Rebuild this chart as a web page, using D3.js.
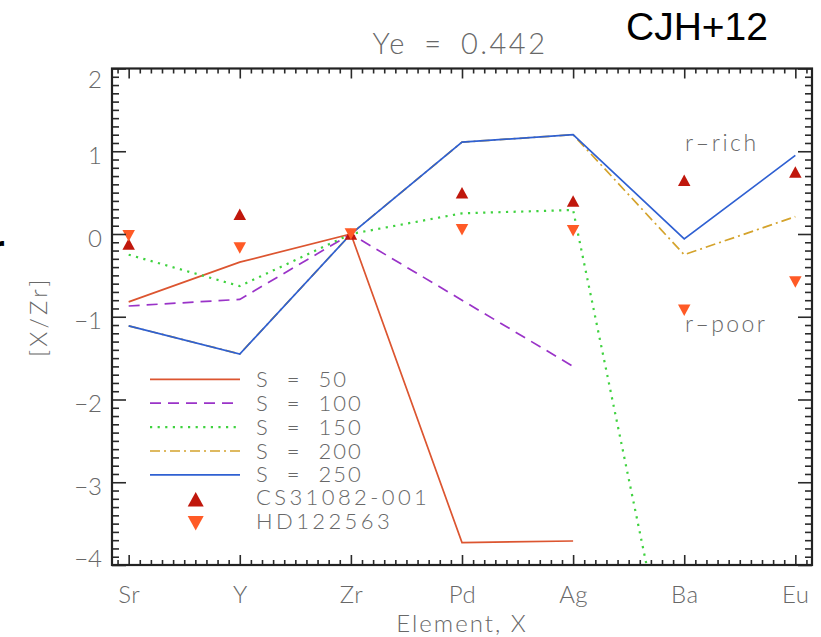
<!DOCTYPE html>
<html>
<head>
<meta charset="utf-8">
<script src="https://cdn.jsdelivr.net/npm/d3@7"></script>
<style>
  html, body { margin: 0; padding: 0; background: #fff; }
  svg { display: block; }
  .idl { font-family: Lato, "DejaVu Sans", sans-serif; font-weight: 300; fill: #686868; }
</style>
</head>
<body>
<svg id="chart" width="821" height="637"></svg>
<script>
// Elements along the x axis
const elements = ["Sr", "Y", "Zr", "Pd", "Ag", "Ba", "Eu"];

// Model abundance patterns [X/Zr] for each entropy S (Ye = 0.442)
const s50  = [-0.82, -0.34, 0.00, -3.73, -3.71];
const s100 = [-0.87, -0.79, 0.00, -0.80, -1.60];
const s150 = [-0.25, -0.63, 0.00, 0.25, 0.29, -6.20];
const s200 = [-1.11, -1.45, 0.00, 1.11, 1.20, -0.25, 0.21];
const s250 = [-1.11, -1.45, 0.00, 1.11, 1.20, -0.06, 0.95];

// Observed stars
const cs31082  = [-0.12, 0.24, 0.00, 0.50, 0.40, 0.65, 0.75];
const hd122563 = [-0.02, -0.17, 0.00, 0.05, 0.04, -0.92, -0.58];

// Axis tick values
const yTicks = [-4, -3, -2, -1, 0, 1, 2];
const seriesNames = ["S = 50", "S = 100", "S = 150", "S = 200", "S = 250"];
const starNames = ["CS31082-001", "HD122563"];

const svg = d3.select("#chart");
const P = { left: 112, right: 812, top: 68.5, bottom: 565 };

const x = d3.scaleLinear().domain([-0.15, 6.15]).range([P.left, P.right]);
const y = d3.scaleLinear().domain([-4, 2]).range([P.bottom, P.top]);

const series = [
  { name: seriesNames[0], values: s50,  color: "#dc5530", dash: null, w: 1.7 },
  { name: seriesNames[1], values: s100, color: "#9a33c8", dash: "11,7", w: 1.7 },
  { name: seriesNames[2], values: s150, color: "#3fd23f", dash: "2.2,5.4", w: 2.2 },
  { name: seriesNames[3], values: s200, color: "#d4a32c", dash: "10,4,2,4", w: 1.7 },
  { name: seriesNames[4], values: s250, color: "#2f60d2", dash: null, w: 1.7 }
];
const stars = [
  { name: starNames[0], values: cs31082,  color: "#c0170c", up: true },
  { name: starNames[1], values: hd122563, color: "#ff5a26", up: false }
];

svg.append("defs").append("clipPath").attr("id", "plotClip")
  .append("rect")
  .attr("x", P.left).attr("y", P.top)
  .attr("width", P.right - P.left).attr("height", P.bottom - P.top);

// Model curves
const line = d3.line().x((d, i) => x(i)).y(d => y(d));
const gLines = svg.append("g").attr("clip-path", "url(#plotClip)");
series.forEach(s => {
  gLines.append("path")
    .attr("d", line(s.values))
    .attr("fill", "none")
    .attr("stroke", s.color)
    .attr("stroke-width", s.w)
    .attr("stroke-dasharray", s.dash)
    .attr("stroke-linejoin", "miter");
});

// Triangle markers
function tri(cx, cy, w, h, up) {
  const hw = w / 2, hh = h / 2;
  return up
    ? `M${cx - hw},${cy + hh}L${cx + hw},${cy + hh}L${cx},${cy - hh}Z`
    : `M${cx - hw},${cy - hh}L${cx + hw},${cy - hh}L${cx},${cy + hh}Z`;
}
const gPts = svg.append("g");
stars.forEach(s => {
  gPts.selectAll(null).data(s.values).enter().append("path")
    .attr("d", (d, i) => tri(x(i), y(d), 12.5, 11.5, s.up))
    .attr("fill", s.color);
});

// Frame and ticks
function styleAxis(g) {
  g.select(".domain").remove();
  g.selectAll(".tick line").attr("stroke", "#2a2a2a").attr("stroke-width", 1.6);
}
const yMinor = d3.range(-40, 21).map(v => v / 10).filter(v => Math.abs(v - Math.round(v)) > 1e-6);
const xMinor = d3.range(-1, 62).map(v => v / 10).filter(v => Math.abs(v - Math.round(v)) > 1e-6);
const xMajor = d3.range(elements.length);

// left
svg.append("g").attr("transform", `translate(${P.left},0)`)
  .call(d3.axisLeft(y).tickValues(yMinor).tickSize(-7).tickFormat(""))
  .call(styleAxis);
const yAxisG = svg.append("g").attr("transform", `translate(${P.left},0)`)
  .call(d3.axisLeft(y).tickValues(yTicks).tickSize(-14).tickPadding(10)
    .tickFormat(d => d < 0 ? "\u2212" + Math.abs(d) : String(d)))
  .call(styleAxis);
yAxisG.selectAll("text")
  .attr("class", "idl")
  .attr("font-size", 24)
  .style("font-family", "Lato, 'DejaVu Sans', sans-serif")
  .attr("dy", d => d === 2 ? "0.78em" : d === -4 ? "0.08em" : "0.5em");

// right
svg.append("g").attr("transform", `translate(${P.right},0)`)
  .call(d3.axisLeft(y).tickValues(yMinor).tickSize(7).tickFormat(""))
  .call(styleAxis);
svg.append("g").attr("transform", `translate(${P.right},0)`)
  .call(d3.axisLeft(y).tickValues(yTicks).tickSize(14).tickFormat(""))
  .call(styleAxis);

// bottom
svg.append("g").attr("transform", `translate(0,${P.bottom})`)
  .call(d3.axisBottom(x).tickValues(xMinor).tickSize(-5).tickFormat(""))
  .call(styleAxis);
const xAxisG = svg.append("g").attr("transform", `translate(0,${P.bottom})`)
  .call(d3.axisBottom(x).tickValues(xMajor).tickSize(-10).tickPadding(21)
    .tickFormat(i => elements[i]))
  .call(styleAxis);
xAxisG.selectAll("text")
  .attr("class", "idl")
  .attr("font-size", 24)
  .attr("letter-spacing", 0.5)
  .style("font-family", "Lato, 'DejaVu Sans', sans-serif");

// top
svg.append("g").attr("transform", `translate(0,${P.top})`)
  .call(d3.axisTop(x).tickValues(xMinor).tickSize(-5).tickFormat(""))
  .call(styleAxis);
svg.append("g").attr("transform", `translate(0,${P.top})`)
  .call(d3.axisTop(x).tickValues(xMajor).tickSize(-10).tickFormat(""))
  .call(styleAxis);

svg.append("rect")
  .attr("x", P.left).attr("y", P.top)
  .attr("width", P.right - P.left).attr("height", P.bottom - P.top)
  .attr("fill", "none").attr("stroke", "#222").attr("stroke-width", 2.2);

// Axis titles and plot title
svg.append("text").attr("class", "idl")
  .attr("x", (P.left + P.right) / 2).attr("y", 632)
  .attr("text-anchor", "middle").attr("font-size", 24)
  .attr("letter-spacing", 2)
  .text("Element, X");

svg.append("text").attr("class", "idl")
  .attr("transform", `translate(47,${(P.top + P.bottom) / 2}) rotate(-90)`)
  .attr("text-anchor", "middle").attr("font-size", 24)
  .attr("letter-spacing", 3.2)
  .text("[X/Zr]");

svg.append("text").attr("class", "idl")
  .attr("x", 460).attr("y", 54)
  .attr("text-anchor", "middle").attr("font-size", 29)
  .attr("letter-spacing", 2.5).attr("word-spacing", 7)
  .text("Ye = 0.442");

svg.append("text")
  .attr("x", 626).attr("y", 40)
  .attr("font-family", "'Liberation Sans', Arial, sans-serif")
  .attr("font-size", 39).attr("fill", "#000")
  .text("CJH+12");

// slide text running in from the left margin
svg.append("text")
  .attr("x", -11).attr("y", 263)
  .attr("font-family", "'Liberation Sans', Arial, sans-serif")
  .attr("font-size", 40).attr("font-weight", "bold").attr("fill", "#000")
  .text("r");

svg.append("text").attr("class", "idl")
  .attr("x", 685).attr("y", 151).attr("font-size", 23)
  .attr("letter-spacing", 2.6)
  .text("r\u2013rich");
svg.append("text").attr("class", "idl")
  .attr("x", 685).attr("y", 332).attr("font-size", 23)
  .attr("letter-spacing", 2.4)
  .text("r\u2013poor");

// Legend
const lg = svg.append("g");
const rowY = i => 379.3 + i * 23.9;
series.forEach((s, i) => {
  lg.append("line")
    .attr("x1", 150).attr("x2", 240)
    .attr("y1", rowY(i)).attr("y2", rowY(i))
    .attr("stroke", s.color).attr("stroke-width", s.w)
    .attr("stroke-dasharray", s.dash);
  lg.append("text").attr("class", "idl")
    .attr("x", 256).attr("y", rowY(i) + 7.5).attr("font-size", 22)
    .attr("letter-spacing", 2).attr("word-spacing", 9)
    .text(s.name);
});
stars.forEach((s, j) => {
  const i = series.length + j;
  lg.append("path")
    .attr("d", tri(195.7, rowY(i) + 0.5, 16, 14.5, s.up))
    .attr("fill", s.color);
  lg.append("text").attr("class", "idl")
    .attr("x", 256).attr("y", rowY(i) + 6.5).attr("font-size", 22)
    .attr("letter-spacing", 3.4)
    .text(s.name);
});
</script>
</body>
</html>
